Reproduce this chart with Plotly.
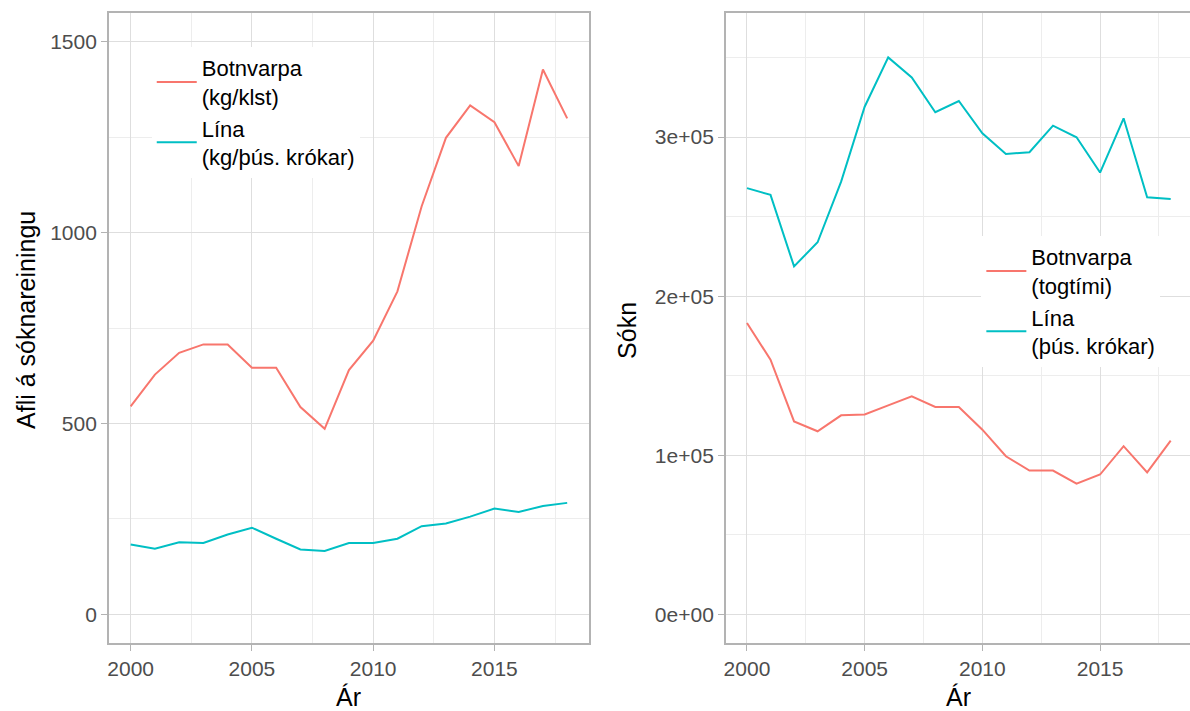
import plotly.graph_objects as go

years = list(range(2000, 2019))

# Left panel: catch per unit effort
cpue_botnvarpa = [545, 628, 685, 707, 707, 646, 646, 543, 486, 640, 717, 846,
                  1069, 1248, 1333, 1289, 1174, 1427, 1299]
cpue_lina = [183, 172, 189, 187, 209, 227, 198, 170, 166, 187, 187, 198,
             231, 238, 256, 277, 268, 284, 292]

# Right panel: effort
effort_botnvarpa = [183100, 160100, 121300, 115100, 125100, 125700, 131400, 137000,
                    130400, 130400, 116100, 99400, 90400, 90400, 82200, 87900,
                    105700, 89300, 109200]
effort_lina = [267900, 263700, 218700, 233900, 272000, 319100, 350100, 337500,
               315600, 322700, 302400, 289400, 290500, 307200, 299900, 277700,
               311800, 262200, 261100]

left_yticks = [0, 500, 1000, 1500]
left_yminor = [250, 750, 1250]
right_yticks = [0, 100000, 200000, 300000]
right_yticklabels = ["0e+00", "1e+05", "2e+05", "3e+05"]
right_yminor = [50000, 150000, 250000, 350000]
xticks = [2000, 2005, 2010, 2015]
xminor = [2002.5, 2007.5, 2012.5, 2017.5]

RED = "#F8766D"
CYAN = "#00BFC4"
FONT = "Liberation Sans, Arial, sans-serif"
W, H = 1190, 711

fig = go.Figure()
fig.add_trace(go.Scatter(x=years, y=cpue_botnvarpa, mode="lines", name="Botnvarpa<br>(kg/klst)",
                         line=dict(color=RED, width=2), xaxis="x", yaxis="y", legend="legend"))
fig.add_trace(go.Scatter(x=years, y=cpue_lina, mode="lines", name="Lína<br>(kg/þús. krókar)",
                         line=dict(color=CYAN, width=2), xaxis="x", yaxis="y", legend="legend"))
fig.add_trace(go.Scatter(x=years, y=effort_botnvarpa, mode="lines", name="Botnvarpa<br>(togtími)",
                         line=dict(color=RED, width=2), xaxis="x2", yaxis="y2", legend="legend2"))
fig.add_trace(go.Scatter(x=years, y=effort_lina, mode="lines", name="Lína<br>(þús. krókar)",
                         line=dict(color=CYAN, width=2), xaxis="x2", yaxis="y2", legend="legend2"))

ydom = [(H - 643) / H, (H - 13) / H]
grid = "#DEDEDE"
minor_grid = "#EDEDED"
border = "#B3B3B3"
tickfont = dict(family=FONT, size=21, color="#4D4D4D")

def xaxis(domain, rng, anchor):
    return dict(domain=domain, range=rng, anchor=anchor, tickvals=xticks,
                ticktext=[str(v) for v in xticks], tickfont=tickfont,
                showgrid=True, gridcolor=grid, gridwidth=1,
                minor=dict(tickvals=xminor, showgrid=True, gridcolor=minor_grid, gridwidth=1, ticklen=0),
                showline=True, linecolor=border, linewidth=1.5, mirror=True,
                ticks="outside", ticklen=6, tickcolor=border, tickwidth=1,
                zeroline=False, fixedrange=True)

def yaxis(rng, anchor, vals, texts, minor_vals, mirror):
    return dict(domain=ydom, range=rng, anchor=anchor, tickvals=vals,
                ticktext=texts, tickfont=tickfont,
                showgrid=True, gridcolor=grid, gridwidth=1,
                minor=dict(tickvals=minor_vals, showgrid=True, gridcolor=minor_grid, gridwidth=1, ticklen=0),
                showline=True, linecolor=border, linewidth=1.5, mirror=mirror,
                ticks="outside", ticklen=6, tickcolor=border, tickwidth=1,
                zeroline=False, fixedrange=True)

legend_font = dict(family=FONT, size=22, color="black")

fig.update_layout(
    width=W, height=H,
    margin=dict(l=0, r=0, t=0, b=0),
    paper_bgcolor="white", plot_bgcolor="white",
    font=dict(family=FONT, color="black"),
    xaxis=xaxis([107 / W, 588 / W], [1999.1, 2018.9], "y"),
    xaxis2=xaxis([725 / W, 1.0], [1999.1, 2018.82], "y2"),
    yaxis=yaxis([-75, 1575], "x", left_yticks, [str(v) for v in left_yticks], left_yminor, True),
    yaxis2=yaxis([-18000, 378000], "x2", right_yticks, right_yticklabels, right_yminor, False),
    legend=dict(x=150 / W, y=1 - 47 / H, xanchor="left", yanchor="top",
                bgcolor="white", borderwidth=0, font=legend_font, itemwidth=40),
    legend2=dict(x=981 / W, y=1 - 236 / H, xanchor="left", yanchor="top",
                 bgcolor="white", borderwidth=0, font=legend_font, itemwidth=40),
    showlegend=True,
)

title_font = dict(family=FONT, size=25, color="black")
fig.add_annotation(text="Afli á sóknareiningu", x=24 / W, y=1 - 320 / H, xref="paper", yref="paper",
                   textangle=-90, showarrow=False, font=title_font, xanchor="center", yanchor="middle")
fig.add_annotation(text="Sókn", x=626 / W, y=1 - 330 / H, xref="paper", yref="paper",
                   textangle=-90, showarrow=False, font=title_font, xanchor="center", yanchor="middle")
fig.add_annotation(text="Ár", x=347 / W, y=1 - 697 / H, xref="paper", yref="paper",
                   showarrow=False, font=title_font, xanchor="center", yanchor="middle")
fig.add_annotation(text="Ár", x=958 / W, y=1 - 697 / H, xref="paper", yref="paper",
                   showarrow=False, font=title_font, xanchor="center", yanchor="middle")

fig.write_html("out.html", config={"displayModeBar": False},
               post_script="document.body.style.margin='0';")
